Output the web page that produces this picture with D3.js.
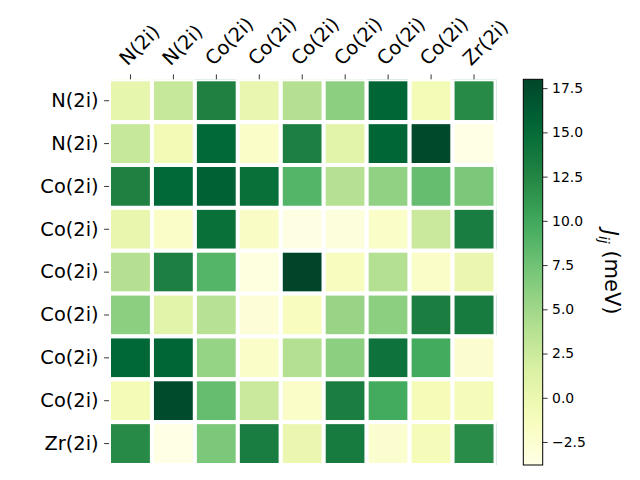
<!DOCTYPE html>
<html>
<head>
<meta charset="utf-8">
<script src="https://cdn.jsdelivr.net/npm/d3@7"></script>
<style>
  body { margin: 0; background: #fff; }
</style>
</head>
<body>
<svg id="chart" width="640" height="480" font-family="DejaVu Sans, sans-serif"></svg>
<script>
// atom labels, same order on both axes
const rowLabels = ["N(2i)", "N(2i)", "Co(2i)", "Co(2i)", "Co(2i)", "Co(2i)", "Co(2i)", "Co(2i)", "Zr(2i)"];
const colLabels = ["N(2i)", "N(2i)", "Co(2i)", "Co(2i)", "Co(2i)", "Co(2i)", "Co(2i)", "Co(2i)", "Zr(2i)"];

// J_ij in meV
const jRow0 = [0.4, 2.8, 12.9, 0.2, 3.9, 6.0, 15.4, -0.8, 12.1];
const jRow1 = [2.8, -0.7, 15.2, -2.0, 13.0, 0.8, 15.4, 17.6, -3.8];
const jRow2 = [12.9, 15.2, 15.8, 14.5, 8.9, 3.8, 5.8, 8.0, 6.9];
const jRow3 = [0.3, -2.0, 14.5, -1.8, -3.6, -3.2, -2.0, 2.6, 13.3];
const jRow4 = [3.9, 13.0, 8.9, -3.4, 18.0, -1.4, 4.0, -2.0, 0.0];
const jRow5 = [6.0, 0.8, 3.7, -3.0, -1.4, 5.4, 6.0, 13.2, 13.5];
const jRow6 = [15.3, 15.4, 5.6, -2.0, 4.0, 6.0, 14.3, 9.8, -2.4];
const jRow7 = [-0.8, 17.5, 8.0, 2.6, -2.0, 13.2, 9.8, -1.0, -0.9];
const jRow8 = [12.1, -3.8, 6.9, 13.3, 0.0, 13.5, -2.4, -0.9, 12.0];
const jMatrix = [jRow0, jRow1, jRow2, jRow3, jRow4, jRow5, jRow6, jRow7, jRow8];

const cbarTicks = [-2.5, 0, 2.5, 5, 7.5, 10, 12.5, 15, 17.5];

// matplotlib YlGn
const ylgn = ["#ffffe5", "#f7fcb9", "#d9f0a3", "#addd8e", "#78c679", "#41ab5d", "#238443", "#006837", "#004529"];

const vmin = d3.min(jMatrix.flat());
const vmax = d3.max(jMatrix.flat());
const colorT = d3.scaleLinear().domain(d3.range(ylgn.length).map(i => i / (ylgn.length - 1))).range(ylgn).interpolate(d3.interpolateRgb);
const color = v => colorT((v - vmin) / (vmax - vmin));

const svg = d3.select("#chart");
const plotLeft = 109, plotRight = 495.5, plotTop = 79.3, plotBottom = 465;
const font = "DejaVu Sans, sans-serif";

const x = d3.scaleBand().domain(d3.range(colLabels.length)).range([plotLeft, plotRight]);
const y = d3.scaleBand().domain(d3.range(rowLabels.length)).range([plotTop, plotBottom]);

const cells = [];
jMatrix.forEach((row, i) => row.forEach((v, j) => cells.push({ i, j, v })));

svg.append("clipPath").attr("id", "clip")
  .append("rect").attr("x", plotLeft).attr("y", plotTop).attr("width", plotRight - plotLeft + 1).attr("height", plotBottom - plotTop);

const plot = svg.append("g").attr("clip-path", "url(#clip)");

// thin right-edge sliver of the last column
plot.selectAll(".sliver")
  .data(cells.filter(d => d.j === colLabels.length - 1))
  .enter().append("rect")
  .attr("x", plotRight - 0.2)
  .attr("y", d => y(d.i))
  .attr("width", 1.4)
  .attr("height", y.bandwidth())
  .attr("fill", d => color(d.v));

plot.selectAll(".cell")
  .data(cells)
  .enter().append("rect")
  .attr("class", "cell")
  .attr("x", d => x(d.j))
  .attr("y", d => y(d.i))
  .attr("width", x.bandwidth())
  .attr("height", y.bandwidth())
  .attr("fill", d => color(d.v))
  .attr("stroke", "#fff")
  .attr("stroke-width", 4);

// top axis with rotated labels
const xAxis = svg.append("g")
  .attr("transform", `translate(0,${plotTop})`)
  .call(d3.axisTop(x).tickSize(4.9).tickFormat(i => colLabels[i]))
  .attr("font-family", font);
xAxis.select(".domain").remove();
xAxis.selectAll("line").attr("stroke", "#000").attr("stroke-width", 0.8);
xAxis.selectAll("text")
  .attr("font-size", "19.4px")
  .attr("fill", "#000")
  .attr("text-anchor", "start")
  .attr("x", 0).attr("y", 0).attr("dy", "-0.22em")
  .attr("transform", "translate(0,-9.8) rotate(-45)");

const yAxis = svg.append("g")
  .attr("transform", `translate(${plotLeft},0)`)
  .call(d3.axisLeft(y).tickSize(4.9).tickPadding(5.5).tickFormat(i => rowLabels[i]))
  .attr("font-family", font);
yAxis.select(".domain").remove();
yAxis.selectAll("line").attr("stroke", "#000").attr("stroke-width", 0.8);
yAxis.selectAll("text").attr("font-size", "19.4px").attr("fill", "#000");

// colorbar
const cbX = 523.3, cbW = 19.4;
const cbScale = d3.scaleLinear().domain([vmin, vmax]).range([plotBottom, plotTop]);
const grad = svg.append("defs").append("linearGradient")
  .attr("id", "cbgrad").attr("x1", 0).attr("y1", 1).attr("x2", 0).attr("y2", 0);
grad.selectAll("stop")
  .data(d3.range(0, 1.0001, 0.05))
  .enter().append("stop")
  .attr("offset", d => d)
  .attr("stop-color", d => colorT(d));

svg.append("rect")
  .attr("x", cbX).attr("y", plotTop)
  .attr("width", cbW).attr("height", plotBottom - plotTop)
  .attr("fill", "url(#cbgrad)")
  .attr("stroke", "#000").attr("stroke-width", 1);

const cbAxis = svg.append("g")
  .attr("transform", `translate(${cbX + cbW},0)`)
  .call(d3.axisRight(cbScale).tickValues(cbarTicks).tickSize(4.9).tickPadding(4.5).tickFormat(d3.format(".1f")))
  .attr("font-family", font);
cbAxis.select(".domain").remove();
cbAxis.selectAll("line").attr("stroke", "#000").attr("stroke-width", 0.8);
cbAxis.selectAll("text").attr("font-size", "13.9px").attr("fill", "#000");

const cbLabel = svg.append("text")
  .attr("transform", `translate(603,${(plotTop + plotBottom) / 2}) rotate(90)`)
  .attr("text-anchor", "middle")
  .attr("font-family", font)
  .attr("font-size", "21px")
  .attr("fill", "#000");
cbLabel.append("tspan").attr("font-style", "italic").text("J");
cbLabel.append("tspan").attr("font-style", "italic").attr("font-size", "14px").attr("dy", "0.3em").text("ij");
cbLabel.append("tspan").attr("dy", "-0.3em").text(" (meV)");
</script>
</body>
</html>
